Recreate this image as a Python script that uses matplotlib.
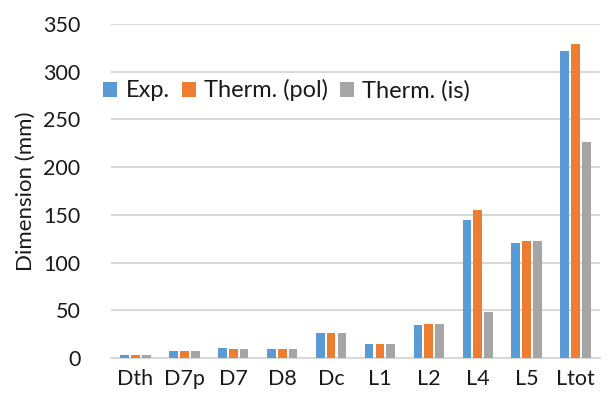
import matplotlib
matplotlib.use("Agg")
import matplotlib.pyplot as plt
import numpy as np

categories = ["Dth", "D7p", "D7", "D8", "Dc", "L1", "L2", "L4", "L5", "Ltot"]
exp_vals = [3, 7, 10, 9, 26, 15, 35, 145, 121, 322]
pol_vals = [3, 7, 9, 9, 26, 14.5, 35.5, 155, 123, 329]
is_vals = [3, 7, 9, 9, 26, 14.5, 35.5, 48, 123, 226]
series_names = ["Exp.", "Therm. (pol)", "Therm. (is)"]
colors = ["#5B9BD5", "#ED7D31", "#A5A5A5"]
yticks = [0, 50, 100, 150, 200, 250, 300, 350]

plt.rcParams['font.family'] = ['Lato', 'DejaVu Sans']

fig = plt.figure(figsize=(6.08, 4.03), dpi=100)
ax = fig.add_axes([111/608, 1-358/403, (600-111)/608, (358-24)/403])

x = np.arange(len(categories))
w = 0.178
off = 0.222
for i, (vals, name, c) in enumerate(zip([exp_vals, pol_vals, is_vals], series_names, colors)):
    ax.bar(x + (i-1)*off, vals, width=w, color=c, label=name, zorder=3)

ax.set_xlim(-0.5, len(categories)-0.5)
ax.set_ylim(0, 350)
ax.set_yticks(yticks)
ax.set_xticks(x)
ax.set_xticklabels(categories)
ax.tick_params(axis='both', length=0, labelsize=15.5, colors='#1a1a1a')
ax.tick_params(axis='y', pad=22)
ax.tick_params(axis='x', pad=8)
ax.grid(axis='y', color='#D9D9D9', linewidth=1.5, zorder=0)
for s in ['top', 'right', 'left']:
    ax.spines[s].set_visible(False)
ax.spines['bottom'].set_color('#D9D9D9')
ax.spines['bottom'].set_linewidth(1.5)
ax.set_ylabel("Dimension (mm)", fontsize=16, color='#1a1a1a', labelpad=5)

leg = fig.legend(loc='upper left', bbox_to_anchor=(82/608, 1-58/403), ncol=3, frameon=False,
                 fontsize=17, handlelength=0.6, handleheight=0.6, handletextpad=0.35,
                 columnspacing=0.5, labelcolor='#1a1a1a')

fig.savefig("out.png", dpi=100, facecolor='white')
